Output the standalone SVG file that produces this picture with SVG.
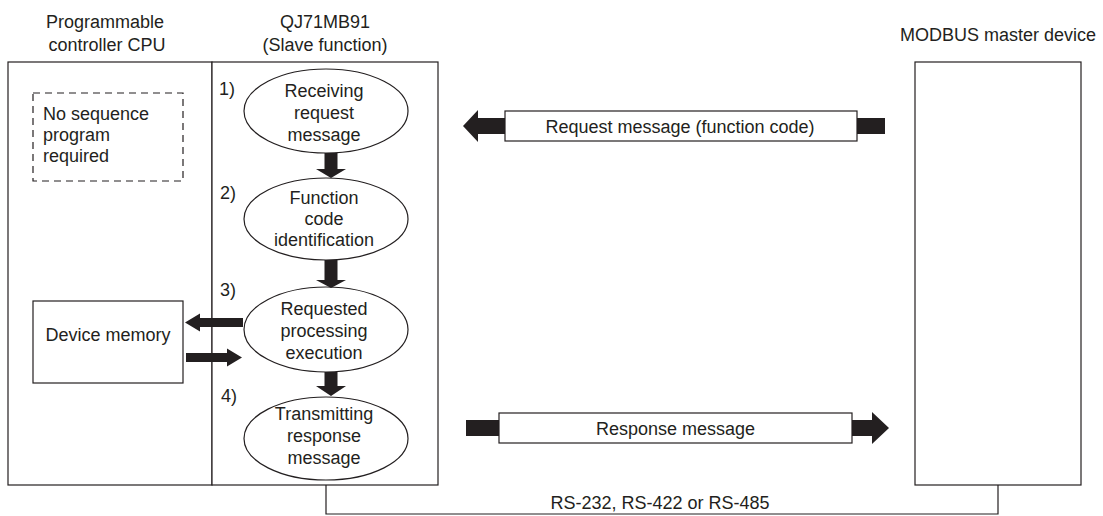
<svg xmlns="http://www.w3.org/2000/svg" width="1103" height="516" viewBox="0 0 1103 516">
<style>
text{font-family:"Liberation Sans",Arial,sans-serif;font-size:18px;fill:#231f20}
.c{text-anchor:middle}
.box{fill:#fff;stroke:#231f20;stroke-width:1.2}
.dash{fill:none;stroke:#231f20;stroke-width:1.2;stroke-dasharray:7 5}
.arr{fill:#231f20;stroke:none}
.line{fill:none;stroke:#231f20;stroke-width:1.2}
</style>
<rect width="1103" height="516" fill="#fff"/>
<g id="cpu">
<rect class="box" x="8" y="62" width="204" height="423"/>
<text class="c" x="105" y="28">Programmable</text>
<text class="c" x="107" y="51">controller CPU</text>
</g>
<g id="qj71mb91">
<rect class="box" x="212" y="62" width="226" height="423"/>
<text class="c" x="325" y="28">QJ71MB91</text>
<text class="c" x="325" y="51">(Slave function)</text>
</g>
<g id="note">
<rect class="dash" x="33" y="93" width="150" height="88"/>
<text x="43" y="120">No sequence</text>
<text x="43" y="141">program</text>
<text x="43" y="162">required</text>
</g>
<g id="device-memory">
<rect class="box" x="33" y="301" width="150" height="82"/>
<text class="c" x="108" y="341">Device memory</text>
</g>
<g id="step1">
<text x="219" y="95">1)</text>
<ellipse class="box" cx="326" cy="111" rx="82" ry="42"/>
<text class="c" x="324" y="97">Receiving</text>
<text class="c" x="324" y="119">request</text>
<text class="c" x="324" y="141">message</text>
</g>
<g id="step2">
<text x="220" y="199">2)</text>
<ellipse class="box" cx="326" cy="219" rx="82" ry="41"/>
<text class="c" x="324" y="204">Function</text>
<text class="c" x="324" y="225">code</text>
<text class="c" x="324" y="246">identification</text>
</g>
<g id="step3">
<text x="220" y="296">3)</text>
<ellipse class="box" cx="326" cy="329.5" rx="82" ry="42.5"/>
<text class="c" x="324" y="315">Requested</text>
<text class="c" x="324" y="337">processing</text>
<text class="c" x="324" y="359">execution</text>
</g>
<g id="step4">
<text x="221" y="402">4)</text>
<ellipse class="box" cx="326" cy="438.5" rx="82" ry="41.5"/>
<text class="c" x="324" y="420">Transmitting</text>
<text class="c" x="324" y="442">response</text>
<text class="c" x="324" y="464">message</text>
</g>
<g id="modbus-master">
<rect class="box" x="915" y="62" width="166" height="423"/>
<text class="c" x="998" y="41">MODBUS master device</text>
</g>
<g id="connectors">
<polygon class="arr" points="324.5,153 337.5,153 337.5,169 346,169 331,178 316,169 324.5,169"/>
<polygon class="arr" points="324.5,260 337.5,260 337.5,280 346,280 331,288 316,280 324.5,280"/>
<polygon class="arr" points="324.5,372 337.5,372 337.5,386 346,386 331,396 316,386 324.5,386"/>
<polygon class="arr" points="243,318 200,318 200,313.5 185,322.5 200,331.5 200,327 243,327"/>
<polygon class="arr" points="186,353 227,353 227,348.5 242,357.5 227,366.5 227,362 186,362"/>
<polygon class="arr" points="505,118 478,118 478,110 463,126 478,142 478,134 505,134"/>
<rect class="arr" x="857" y="118" width="28" height="16"/>
<rect class="arr" x="466" y="420" width="33" height="16"/>
<polygon class="arr" points="852,420 872,420 872,412 889,428 872,444 872,436 852,436"/>
<polyline class="line" points="326,485 326,514 998,514 998,485"/>
</g>
<g id="request-message">
<rect class="box" x="505" y="111" width="352" height="30"/>
<text class="c" x="680" y="132.5">Request message (function code)</text>
</g>
<g id="response-message">
<rect class="box" x="499" y="413" width="353" height="30"/>
<text class="c" x="675.5" y="434.5">Response message</text>
</g>
<g id="cable-label">
<text class="c" x="660" y="509">RS-232, RS-422 or RS-485</text>
</g>
</svg>
